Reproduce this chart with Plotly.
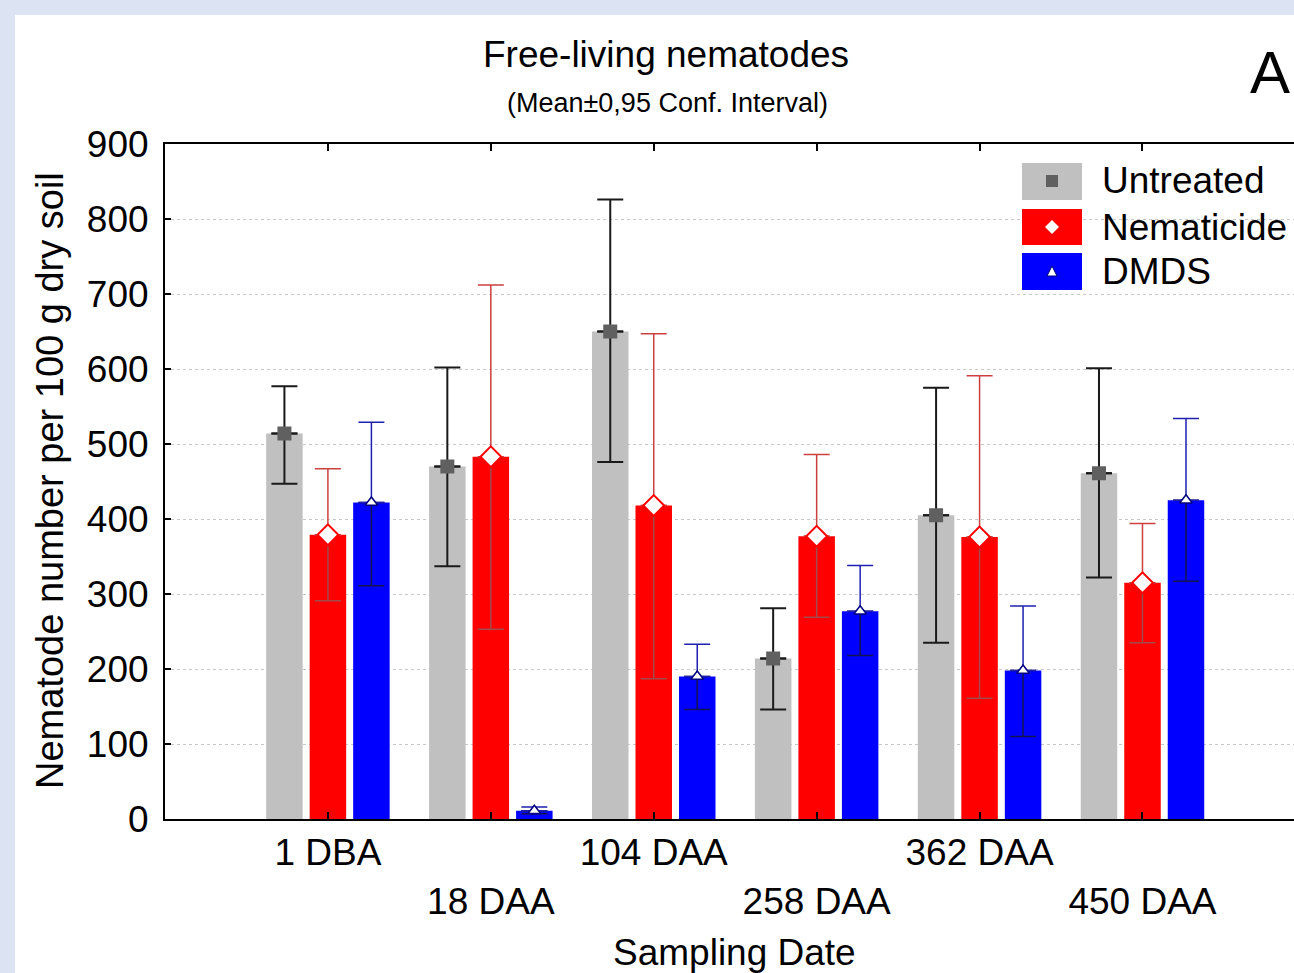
import numpy as np
import plotly.graph_objects as go

# ---------------- data ----------------
categories = ["1 DBA", "18 DAA", "104 DAA", "258 DAA", "362 DAA", "450 DAA"]
series_names = ["Untreated", "Nematicide", "DMDS"]

untreated_mean = [514, 470, 650, 214, 405, 461]
untreated_upper = [577, 602, 826, 281, 575, 601]
untreated_lower = [447, 337, 476, 146, 235, 322]

nematicide_mean = [379, 483, 418, 377, 376, 315]
nematicide_upper = [467, 712, 647, 486, 591, 394]
nematicide_lower = [291, 253, 187, 269, 161, 235]

dmds_mean = [422, 11, 190, 277, 198, 425]
dmds_upper = [529, 16, 233, 338, 284, 534]
dmds_lower = [311, 7, 146, 218, 110, 317]

y_ticks = [0, 100, 200, 300, 400, 500, 600, 700, 800, 900]

# ---------------- styling ----------------
FONT = "Arial, 'Liberation Sans', sans-serif"
W, H = 1294, 973
ML, MR, MT, MB = 165, 0, 144, 154
PW, PH = W - ML - MR, H - MT - MB

def px_x(p):
    return (p - ML) / PW

def px_y(p):
    return (H - MB - p) / PH

styles = [
    dict(bar="#c0c0c0", up="#1a1a1a", lo="#1a1a1a", thick=2.0,
         sym="square", mfill="#606060", mline="#606060", msize=14, mlw=0),
    dict(bar="#ff0000", up="#cc4040", lo="#a04a4a", thick=1.5,
         sym="diamond", mfill="#ffffff", mline="#ff0000", msize=16, mlw=2),
    dict(bar="#0000ff", up="#2020b0", lo="#141450", thick=1.5,
         sym="triangle-up", mfill="#ffffff", mline="#000080", msize=11, mlw=1.5),
]
offsets = [-0.267, 0.0, 0.267]
bar_width = 0.224

means = [untreated_mean, nematicide_mean, dmds_mean]
uppers = [untreated_upper, nematicide_upper, dmds_upper]
lowers = [untreated_lower, nematicide_lower, dmds_lower]

idx = np.arange(len(categories))
fig = go.Figure()

for k, name in enumerate(series_names):
    st = styles[k]
    xs = idx + offsets[k]
    m = np.array(means[k], dtype=float)
    fig.add_trace(go.Bar(x=xs, y=m, width=bar_width, name=name,
                         marker=dict(color=st["bar"], line=dict(width=0)),
                         showlegend=False, hoverinfo="skip"))

for k, name in enumerate(series_names):
    st = styles[k]
    xs = idx + offsets[k]
    m = np.array(means[k], dtype=float)
    up = np.array(uppers[k], dtype=float) - m
    lo = m - np.array(lowers[k], dtype=float)
    # lower whisker
    fig.add_trace(go.Scatter(x=xs, y=m, mode="markers", showlegend=False,
                             marker=dict(size=1, opacity=0),
                             error_y=dict(type="data", symmetric=False,
                                          array=np.zeros_like(m), arrayminus=lo,
                                          color=st["lo"], thickness=st["thick"], width=13),
                             hoverinfo="skip"))
    # upper whisker
    fig.add_trace(go.Scatter(x=xs, y=m, mode="markers", showlegend=False,
                             marker=dict(size=1, opacity=0),
                             error_y=dict(type="data", symmetric=False,
                                          array=up, arrayminus=np.zeros_like(m),
                                          color=st["up"], thickness=st["thick"], width=13),
                             hoverinfo="skip"))
    # mean markers
    fig.add_trace(go.Scatter(x=xs, y=m, mode="markers", showlegend=False, name=name,
                             marker=dict(symbol=st["sym"], size=st["msize"], color=st["mfill"],
                                         line=dict(color=st["mline"], width=st["mlw"]))))

ticktext = [c if i % 2 == 0 else "<br>" + c for i, c in enumerate(categories)]

shapes = [
    # white panel
    dict(type="rect", xref="paper", yref="paper", layer="below",
         x0=px_x(15), x1=px_x(W + 20), y0=px_y(15), y1=px_y(H + 20),
         fillcolor="#ffffff", line=dict(width=0)),
]

annotations = [
    dict(text="Free-living nematodes", x=px_x(666), y=px_y(55), xref="paper", yref="paper",
         showarrow=False, xanchor="center", yanchor="middle",
         font=dict(family=FONT, size=37, color="#000000")),
    dict(text="(Mean±0,95 Conf. Interval)", x=px_x(667), y=px_y(103), xref="paper", yref="paper",
         showarrow=False, xanchor="center", yanchor="middle",
         font=dict(family=FONT, size=27, color="#000000")),
    dict(text="A", x=px_x(1270), y=px_y(73), xref="paper", yref="paper",
         showarrow=False, xanchor="center", yanchor="middle",
         font=dict(family=FONT, size=60, color="#000000")),
    dict(text="Nematode number per 100 g dry soil", x=px_x(50), y=px_y(481),
         xref="paper", yref="paper", showarrow=False, textangle=-90,
         xanchor="center", yanchor="middle",
         font=dict(family=FONT, size=38, color="#000000")),
    dict(text="Sampling Date", x=px_x(734), y=px_y(952), xref="paper", yref="paper",
         showarrow=False, xanchor="center", yanchor="middle",
         font=dict(family=FONT, size=37, color="#000000")),
]

# custom legend (large swatches like the original)
leg_rows = [(163, 200, 181), (209, 245, 227), (253, 290, 271)]
for k, name in enumerate(series_names):
    st = styles[k]
    y0, y1, yc = leg_rows[k]
    shapes.append(dict(type="rect", xref="paper", yref="paper",
                       x0=px_x(1022), x1=px_x(1082), y0=px_y(y1), y1=px_y(y0),
                       fillcolor=st["bar"], line=dict(width=0)))
    annotations.append(dict(text=name, x=px_x(1100), y=px_y(yc), xref="paper", yref="paper",
                            showarrow=False, xanchor="left", yanchor="middle",
                            font=dict(family=FONT, size=37, color="#000000")))

cx = 1052
# square marker
shapes.append(dict(type="rect", xref="paper", yref="paper",
                   x0=px_x(cx - 6), x1=px_x(cx + 6), y0=px_y(181 + 6), y1=px_y(181 - 6),
                   fillcolor="#606060", line=dict(width=0)))
# diamond marker
d = 7
shapes.append(dict(type="path", xref="paper", yref="paper",
                   path=f"M {px_x(cx)} {px_y(227 - d)} L {px_x(cx + d)} {px_y(227)} "
                        f"L {px_x(cx)} {px_y(227 + d)} L {px_x(cx - d)} {px_y(227)} Z",
                   fillcolor="#ffffff", line=dict(width=0)))
# triangle marker
t = 5
shapes.append(dict(type="path", xref="paper", yref="paper",
                   path=f"M {px_x(cx)} {px_y(271 - t)} L {px_x(cx + t)} {px_y(271 + t)} "
                        f"L {px_x(cx - t)} {px_y(271 + t)} Z",
                   fillcolor="#ffffff", line=dict(color="#000080", width=1)))

fig.update_layout(
    width=W, height=H,
    margin=dict(l=ML, r=MR, t=MT, b=MB, pad=0),
    paper_bgcolor="#dce3f3",
    plot_bgcolor="#ffffff",
    barmode="overlay",
    showlegend=False,
    font=dict(family=FONT, size=37, color="#000000"),
    shapes=shapes,
    annotations=annotations,
    xaxis=dict(range=[-1, 5.93], tickmode="array", tickvals=idx, ticktext=ticktext,
               showline=True, linecolor="#000000", linewidth=2, mirror="ticks",
               ticks="inside", ticklen=7, tickwidth=2, tickcolor="#000000",
               showgrid=False, zeroline=False,
               tickfont=dict(family=FONT, size=37, color="#000000")),
    yaxis=dict(range=[0, 900], tickmode="array", tickvals=y_ticks,
               showline=True, linecolor="#000000", linewidth=2, mirror=False,
               ticks="inside", ticklen=6, tickwidth=2, tickcolor="#000000",
               showgrid=True, gridcolor="#c8c8c8", griddash="dot", gridwidth=1,
               zeroline=False, ticklabelstandoff=7,
               tickfont=dict(family=FONT, size=37, color="#000000")),
)

fig.write_html(
    "out.html",
    config={"displayModeBar": False},
    post_script="document.body.style.margin='0px';"
                "document.body.style.overflow='hidden';"
                "document.body.style.background='#dce3f3';",
)
